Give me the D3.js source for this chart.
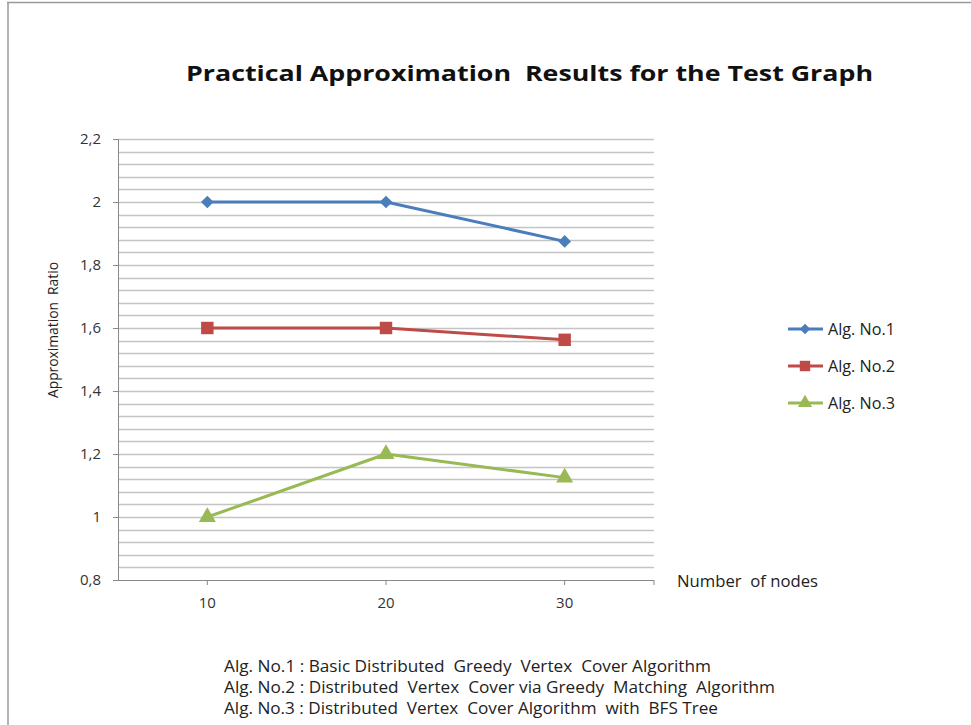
<!DOCTYPE html>
<html><head><meta charset="utf-8">
<script src="https://cdn.jsdelivr.net/npm/d3@7"></script>
<style>body{margin:0;background:#fff}svg{display:block}text{font-family:"Open Sans",sans-serif}</style>
</head><body><svg id="c" width="971" height="725"></svg>
<script>
const categories = ["10","20","30"];
const alg1 = [2, 2, 1.875];
const alg2 = [1.6, 1.6, 1.5625];
const alg3 = [1, 1.2, 1.125];
const yTickValues = [0.8, 1, 1.2, 1.4, 1.6, 1.8, 2, 2.2];
const yTickLabels = ["0,8","1","1,2","1,4","1,6","1,8","2","2,2"];
const seriesNames = ["Alg. No.1","Alg. No.2","Alg. No.3"];
const footnotes = [
  "Alg. No.1 : Basic Distributed  Greedy  Vertex  Cover Algorithm",
  "Alg. No.2 : Distributed  Vertex  Cover via Greedy  Matching  Algorithm",
  "Alg. No.3 : Distributed  Vertex  Cover Algorithm  with  BFS Tree"
];
const footnoteWidths = [487, 551, 494];
const title = "Practical Approximation  Results for the Test Graph";

const svg = d3.select("#c");
const colors = ["#4a7ebb","#be4b48","#98b954"];
const series = [alg1, alg2, alg3];

function marker(k, s) {
  if (k === 0) return d3.symbol().type(d3.symbolSquare).size(80 * s)();
  if (k === 1) return d3.symbol().type(d3.symbolSquare).size(155 * s)();
  return d3.symbol().type(d3.symbolTriangle).size(125 * s)();
}
const rot = [45, 0, 0];

// frame
svg.append("line").attr("x1",7).attr("x2",971).attr("y1",2.5).attr("y2",2.5).attr("stroke","#9a9a9a").attr("stroke-width",1.5);
svg.append("line").attr("x1",8).attr("x2",8).attr("y1",2).attr("y2",725).attr("stroke","#9a9a9a").attr("stroke-width",1.5);

const L = 118, R = 654, T = 139, B = 580;
const x = d3.scaleBand().domain(categories).range([L, R]);
const y = d3.scaleLinear().domain([0.8, 2.2]).range([B, T]);

// gridlines every 0.04
const grid = d3.range(0, 36).map(i => 0.8 + i * 0.04).filter(v => v > 0.81);
svg.append("g").selectAll("line").data(grid).join("line")
  .attr("x1", L).attr("x2", R)
  .attr("y1", d => Math.round(y(d)) + 0.5).attr("y2", d => Math.round(y(d)) + 0.5)
  .attr("stroke", "#c4c4c4").attr("stroke-width", 1.3);

// y axis
const yAxis = d3.axisLeft(y).tickValues(yTickValues)
  .tickFormat((d, i) => yTickLabels[i]).tickSize(5).tickPadding(12);
const gy = svg.append("g").attr("transform", `translate(${L},0)`).call(yAxis);
gy.select(".domain").attr("stroke", "#888");
gy.selectAll(".tick line").attr("stroke", "#888");
gy.selectAll("text").style("font-size", "15px").attr("fill", "#333").style("font-family","'Open Sans',sans-serif");

// x axis
const xAxis = d3.axisBottom(x).tickSize(5).tickPadding(12);
const gx = svg.append("g").attr("transform", `translate(0,${B})`).call(xAxis);
gx.select(".domain").attr("stroke", "#888").attr("d", `M${L},0.5H${R}`);
gx.selectAll(".tick line").attr("stroke", "#888");
gx.selectAll("text").style("font-size", "15px").attr("fill", "#333").style("font-family","'Open Sans',sans-serif");
gx.append("line").attr("x1", R).attr("x2", R).attr("y1", 0).attr("y2", 5).attr("stroke", "#888");

// series
const line = d3.line().x((d, i) => x(categories[i]) + x.bandwidth() / 2).y(d => y(d));
series.forEach((s, k) => {
  svg.append("path").datum(s).attr("d", line).attr("fill", "none")
    .attr("stroke", colors[k]).attr("stroke-width", 3).attr("stroke-linejoin","round");
  svg.append("g").selectAll("path").data(s).join("path")
    .attr("d", marker(k, 1))
    .attr("transform", (d, i) => `translate(${x(categories[i]) + x.bandwidth() / 2},${y(d)}) rotate(${rot[k]})`)
    .attr("fill", colors[k]);
});

// title
svg.append("text").attr("x", 186).attr("y", 81).attr("font-size", 22).attr("font-weight", "bold")
  .attr("fill", "#111").attr("textLength", 687).attr("lengthAdjust", "spacingAndGlyphs")
  .style("white-space","pre").text(title);

// y label
svg.append("text").attr("transform", "translate(58,330) rotate(-90)").attr("text-anchor", "middle")
  .attr("font-size", 14.5).attr("fill", "#222").attr("textLength", 136).attr("lengthAdjust","spacingAndGlyphs")
  .text("Approximation  Ratio").style("white-space","pre");

// x label
svg.append("text").attr("x", 677).attr("y", 587).attr("font-size", 15.5).attr("fill", "#222")
  .attr("textLength", 141).attr("lengthAdjust","spacingAndGlyphs")
  .style("white-space","pre").text("Number  of nodes");

// legend
const lg = svg.append("g");
seriesNames.forEach((n, k) => {
  const ly = 329 + k * 37;
  lg.append("line").attr("x1", 788).attr("x2", 823).attr("y1", ly).attr("y2", ly)
    .attr("stroke", colors[k]).attr("stroke-width", 3);
  lg.append("path").attr("d", marker(k, 0.7))
    .attr("transform", `translate(805,${ly}) rotate(${rot[k]})`).attr("fill", colors[k]);
  lg.append("text").attr("x", 828).attr("y", ly + 5.5).attr("font-size", 15.5).attr("fill", "#222")
    .attr("textLength", 67).attr("lengthAdjust","spacingAndGlyphs").text(n);
});

// footnotes
footnotes.forEach((f, i) => {
  svg.append("text").attr("x", 224).attr("y", 672 + i * 21).attr("font-size", 15.5)
    .attr("fill", "#222").attr("textLength", footnoteWidths[i]).attr("lengthAdjust","spacingAndGlyphs")
    .style("white-space","pre").text(f);
});
</script></body></html>
